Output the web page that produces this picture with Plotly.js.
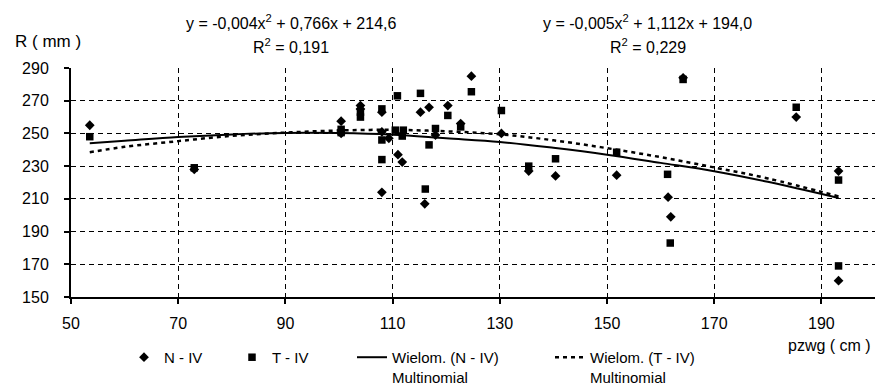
<!DOCTYPE html>
<html>
<head>
<meta charset="utf-8">
<script src="https://cdn.plot.ly/plotly-3.0.1.min.js"></script>
<style>html,body{margin:0;padding:0;background:#fff;}#chart{width:875px;height:385px;}</style>
</head>
<body>
<div id="chart"></div>
<script>
// N - IV (diamonds)
const xN = [53.5, 73, 100.4, 100.4, 104, 104, 108, 108, 109.3, 108, 111, 111.8, 115.2, 116.8, 116, 118, 120.3, 122.7, 124.7, 130.3, 135.4, 140.4, 151.8, 164.2, 161.4, 161.9, 185.3, 193.2, 193.2];
const yN = [255, 228, 257.5, 250, 267, 265, 263, 251, 247, 214, 237, 232.5, 263, 266, 207, 249, 267, 256, 285, 250, 227, 224, 224.5, 284, 211, 199, 260, 227, 160];
// T - IV (squares)
const xT = [53.5, 73, 100.4, 100.4, 104, 104, 108, 108, 108, 110.9, 110.5, 112, 111.8, 115.2, 116.8, 116.1, 118, 120.3, 122.7, 124.7, 130.3, 135.4, 140.4, 151.8, 164.2, 161.3, 161.8, 185.3, 193.2, 193.2];
const yT = [248, 229, 252.5, 250.5, 263, 260, 265, 246, 234, 273, 252, 252, 248.4, 274.5, 243, 216, 253, 261, 254, 275.5, 264, 230, 234.5, 238.5, 283, 225, 183, 266, 221.5, 169];
// Trend lines
const xFitN = [53.5, 60, 70, 80, 90, 100, 110, 120, 130, 140, 150, 160, 170, 180, 193.2];
const yFitN = [244, 245.5, 247.8, 249.4, 250.3, 250.2, 249.2, 247, 244.8, 241.2, 237, 232, 226.9, 220.4, 210.5];
const xFitT = [53.5, 60, 70, 80, 90, 100, 110, 120, 130, 140, 150, 160, 170, 180, 193.2];
const yFitT = [238.5, 241.8, 245.3, 248.5, 250.5, 251.8, 252.2, 251.3, 249.5, 245.8, 241, 235.5, 229.2, 222.5, 211.5];
// Labels
const xTicks = [50, 70, 90, 110, 130, 150, 170, 190];
const yTicks = [150, 170, 190, 210, 230, 250, 270, 290];
const eqN = "y = -0,004x<sup>2</sup> + 0,766x + 214,6";
const r2N = "R<sup>2</sup> = 0,191";
const eqT = "y = -0,005x<sup>2</sup> + 1,112x + 194,0";
const r2T = "R<sup>2</sup> = 0,229";
const namesSeries = ["N - IV", "T - IV", "Wielom. (N - IV)<br>Multinomial", "Wielom. (T - IV)<br>Multinomial"];

const FONT = "Arial, 'Liberation Sans', sans-serif";
const FS = 16;
const traces = [
  {x: xN, y: yN, mode: 'markers', type: 'scatter', name: namesSeries[0], legend: 'legend',
   marker: {symbol: 'diamond', size: 7.5, color: '#000'}},
  {x: xT, y: yT, mode: 'markers', type: 'scatter', name: namesSeries[1], legend: 'legend2',
   marker: {symbol: 'square', size: 7.5, color: '#000'}},
  {x: xFitN, y: yFitN, mode: 'lines', type: 'scatter', name: namesSeries[2], legend: 'legend3',
   line: {color: '#000', width: 2, shape: 'spline'}},
  {x: xFitT, y: yFitT, mode: 'lines', type: 'scatter', name: namesSeries[3], legend: 'legend4',
   line: {color: '#000', width: 2.5, dash: '4px,4px', shape: 'spline'}}
];
const axisCommon = {
  showgrid: true, gridcolor: '#000', gridwidth: 1, griddash: '5px,4px',
  showline: true, linecolor: '#000', linewidth: 2, mirror: false,
  ticks: 'outside', ticklen: 5, tickwidth: 2, tickcolor: '#000', automargin: false,
  zeroline: false, tickfont: {family: FONT, size: FS, color: '#000'}
};
function leg(px) {
  return {orientation: 'h', x: (px - 71) / 804, xanchor: 'left', y: -0.192, yanchor: 'top', valign: 'top',
          font: {family: FONT, size: 15, color: '#000'}, bgcolor: 'rgba(0,0,0,0)', borderwidth: 0, itemwidth: 30};
}
const layout = {
  width: 875, height: 385,
  margin: {l: 71, r: 0, t: 68, b: 88, autoexpand: false},
  paper_bgcolor: '#fff', plot_bgcolor: '#fff',
  font: {family: FONT, size: FS, color: '#000'},
  xaxis: Object.assign({}, axisCommon, {range: [50, 200], tickvals: xTicks, ticktext: xTicks.map(String), ticklabelstandoff: 6}),
  yaxis: Object.assign({}, axisCommon, {range: [150, 290], tickvals: yTicks, ticktext: yTicks.map(String), ticklabelstandoff: 12}),
  showlegend: true,
  legend: leg(124),
  legend2: leg(232),
  legend3: leg(352),
  legend4: leg(550),
  annotations: [
    {xref: 'x', yref: 'paper', x: 91, y: 1, yshift: 46, text: eqN, showarrow: false, xanchor: 'center', yanchor: 'middle', font: {size: FS}},
    {xref: 'x', yref: 'paper', x: 91, y: 1, yshift: 22, text: r2N, showarrow: false, xanchor: 'center', yanchor: 'middle', font: {size: FS}},
    {xref: 'x', yref: 'paper', x: 157.6, y: 1, yshift: 46, text: eqT, showarrow: false, xanchor: 'center', yanchor: 'middle', font: {size: FS}},
    {xref: 'x', yref: 'paper', x: 157.6, y: 1, yshift: 22, text: r2T, showarrow: false, xanchor: 'center', yanchor: 'middle', font: {size: FS}},
    {xref: 'paper', yref: 'paper', x: 0, xshift: -58, y: 1, yshift: 27, text: 'R ( mm )', showarrow: false, xanchor: 'left', yanchor: 'middle', font: {size: 17}},
    {xref: 'paper', yref: 'paper', x: 1, xshift: -2, y: 0, yshift: -48, text: 'pzwg ( cm )', showarrow: false, xanchor: 'right', yanchor: 'middle', font: {size: FS}}
  ]
};
Plotly.newPlot('chart', traces, layout, {displayModeBar: false, staticPlot: true});
</script>
</body>
</html>
